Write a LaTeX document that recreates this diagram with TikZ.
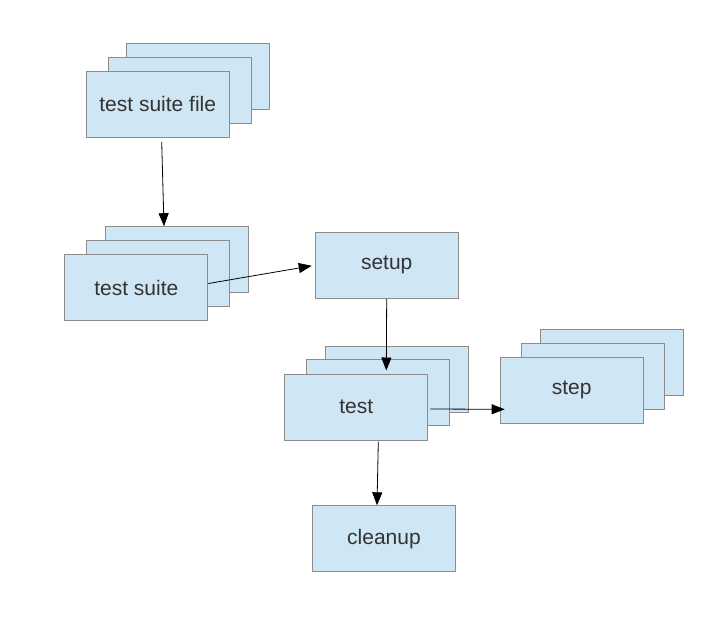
\documentclass[tikz,border=0pt]{standalone}
\usepackage{fontspec}
\setmainfont{Liberation Sans}
\usetikzlibrary{arrows.meta}
\definecolor{cardfill}{HTML}{CFE6F4}
\definecolor{carddraw}{HTML}{8C8C8C}
\definecolor{cardtext}{HTML}{333333}

\tikzset{
  card/.style={draw=carddraw, line width=1pt, fill=cardfill, minimum width=143pt,
    minimum height=66pt, inner sep=0pt, text=cardtext, font=\fontsize{21}{25}\selectfont},
  flow/.style={-{Triangle[length=13pt,width=10pt]}, line width=0.8pt, black}
}

\begin{document}
\begin{tikzpicture}[x=1pt,y=-1pt]
    \useasboundingbox (0,0) rectangle (714,622);

    % Test suite files (stack)
    \node[card] (tsf3) at (198.3,76.2) {};
    \node[card] (tsf2) at (180,90) {};
    \node[card] (tsf) at (157.7,104.3) {test suite file};

    % Test suites (stack)
    \node[card] (ts3) at (177,259.7) {};
    \node[card] (ts2) at (158.3,273.8) {};
    \node[card] (ts) at (136.3,287.5) {test suite};

    % Setup
    \node[card] (setup) at (386.7,265.3) {setup};

    % Tests (stack)
    \node[card] (test3) at (397,379) {};
    \node[card] (test2) at (378,392.8) {};
    \node[card] (test) at (356.3,407) {test};

    % Steps (stack)
    \node[card] (step3) at (611.7,362.2) {};
    \node[card] (step2) at (593.3,376.3) {};
    \node[card] (step) at (571.7,390.3) {step};

    % Cleanup
    \node[card] (cleanup) at (384,538.8) {cleanup};

    % Flow arrows
    \draw[flow] ([xshift=4pt,yshift=-4pt]tsf.south) -- ([xshift=-13pt]ts3.north);
    \draw[flow, shorten >=3pt] ([yshift=4pt]ts.east) -- (setup.west);
    \draw[flow] (setup.south) -- ([xshift=30pt,yshift=3pt]test.north);
    \draw[flow] ([xshift=2pt,yshift=-2pt]test.east) -- ([xshift=5pt,yshift=-19pt]step.west);
    \draw[flow] ([xshift=22pt,yshift=-1pt]test.south) -- ([xshift=-7pt]cleanup.north);

\end{tikzpicture}
\end{document}
